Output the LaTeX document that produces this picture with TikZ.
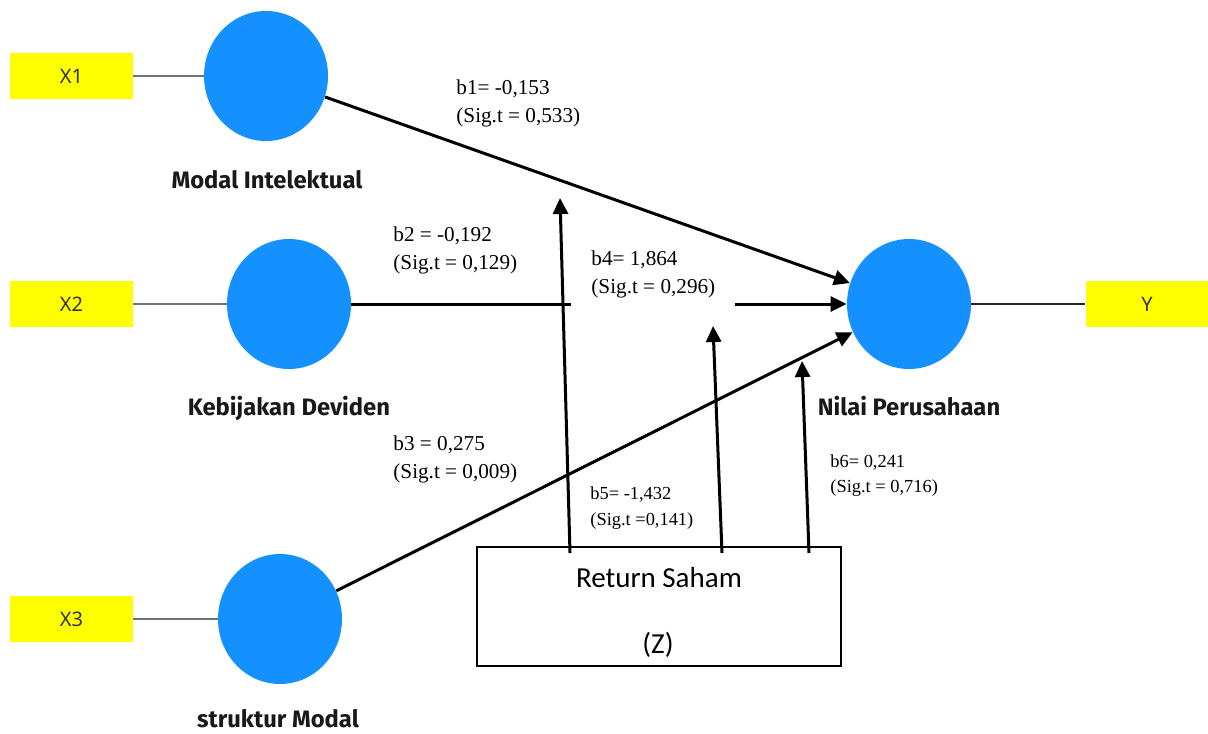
\documentclass[tikz,border=0pt]{standalone}
\usepackage{fontspec}
\setmainfont{Liberation Serif}
\newfontfamily\labelfont{Noto Sans}
\newfontfamily\namefont{Fira Sans}
\newfontfamily\boxfont{Carlito}
\usetikzlibrary{arrows.meta,shapes.geometric}
\definecolor{varblue}{RGB}{20,145,255}
\definecolor{indyellow}{RGB}{255,255,0}
\tikzset{
  latent/.style={ellipse, fill=varblue, minimum width=62pt, minimum height=65pt, inner sep=0pt},
  indicator/.style={rectangle, fill=indyellow, minimum width=61.5pt, minimum height=23pt, inner sep=0pt,
    text=black!80, font=\labelfont\fontsize{10}{12}\selectfont},
  varname/.style={anchor=base, inner sep=0pt, text=black!90, font=\namefont\bfseries\fontsize{11.9}{14}\selectfont},
  coef/.style={anchor=west, align=left, inner sep=0pt, font=\fontsize{10.6}{14}\selectfont},
  coefsmall/.style={coef, font=\fontsize{9.2}{12.6}\selectfont},
  effect/.style={line width=1.5pt, -{Triangle[length=8pt,width=7.5pt]}},
  link/.style={line width=1pt, black!55},
  boxtext/.style={anchor=base, inner sep=0pt, font=\boxfont\fontsize{14.5}{16}\selectfont},
}
\begin{document}
\begin{tikzpicture}[x=0.5pt, y=-0.5pt]
\useasboundingbox (0,0) rectangle (1208,733);

\node[indicator] (x1) at (71.5,76) {X1};
\node[indicator] (x2) at (71.5,304) {X2};
\node[indicator] (x3) at (71.5,619) {X3};
\node[indicator] (y) at (1147,304) {Y};

\node[latent] (mi) at (266,76) {};
\node[latent] (kd) at (289,304) {};
\node[latent] (sm) at (280,619) {};
\node[latent] (np) at (909,304) {};

\node[varname] (mi-name) at (267,188) {Modal Intelektual};
\node[varname] (kd-name) at (289,415) {Kebijakan Deviden};
\node[varname] (sm-name) at (278,727) {struktur Modal};
\node[varname] (np-name) at (909,415) {Nilai Perusahaan};

\node[draw, line width=0.7pt, minimum width=182pt, minimum height=59.5pt, inner sep=0pt] (rs) at (659,606.5) {};
\node[boxtext] (rs-name) at (659,587) {Return Saham};
\node[boxtext] (rs-z) at (658,653) {(Z)};

\coordinate (s1) at (570,553);
\coordinate (t1) at (560,198);
\coordinate (s2) at (722,553);
\coordinate (t2) at (713,326);
\coordinate (s3) at (809,553);
\coordinate (t3) at (802,361);

\draw[link] (x1) -- (mi);
\draw[link] (x2) -- (kd);
\draw[link] (x3) -- (sm);
\draw[link, black!85, line width=0.8pt] (np) -- (y);

\draw[effect] (kd) -- (np);
\node[coef, fill=white, inner xsep=10pt, inner ysep=6pt] (b4) at (571,274) {b4= 1,864\\(Sig.t = 0,296)};
\draw[effect] (mi) -- (np);
\draw[effect] (sm) -- (np);
\draw[effect] (s1) -- (t1);
\draw[effect] (s2) -- (t2);
\draw[effect] (s3) -- (t3);

\node[coef] (b1) at (456,103.5) {b1= -0,153\\(Sig.t = 0,533)};
\node[coef] (b2) at (393,250) {b2 = -0,192\\(Sig.t = 0,129)};
\node[coef] (b3) at (393,459) {b3 = 0,275\\(Sig.t = 0,009)};
\node[coefsmall] (b5) at (590,508) {b5= -1,432\\(Sig.t =0,141)};
\node[coefsmall] (b6) at (830,475.5) {b6= 0,241\\(Sig.t = 0,716)};
\end{tikzpicture}
\end{document}
